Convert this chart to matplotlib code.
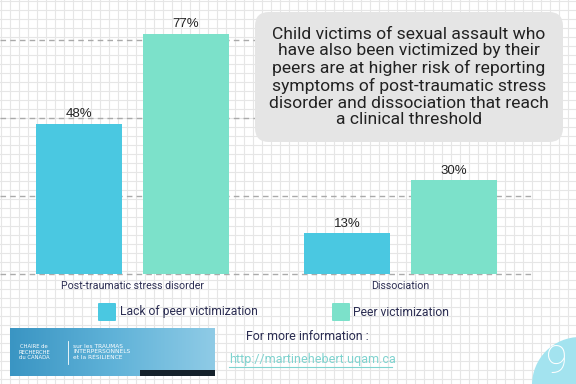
import numpy as np
import matplotlib.pyplot as plt
from matplotlib.patches import FancyBboxPatch, Rectangle, Circle
from matplotlib.colors import LinearSegmentedColormap

categories = ["Post-traumatic stress disorder", "Dissociation"]
series_names = ["Lack of peer victimization", "Peer victimization"]
no_peer = [48, 13]
peer = [77, 30]
title = ("Child victims of sexual assault who\nhave also been victimized by their\n"
         "peers are at higher risk of reporting\nsymptoms of post-traumatic stress\n"
         "disorder and dissociation that reach\na clinical threshold")

BLUE = "#4ac8e1"
GREEN = "#7ce1ca"
NAVY = "#2b2d52"
FONT = "Roboto"
W, H = 576, 384

fig = plt.figure(figsize=(5.76, 3.84), dpi=100)

# graph paper background
bg = fig.add_axes([0, 0, 1, 1], zorder=0)
bg.set_xlim(0, W)
bg.set_ylim(H, 0)
bg.axis("off")
for v in np.arange(0, W + 1, 9):
    bg.axvline(v + 0.5, color="#e6e6e6", lw=0.8)
for v in np.arange(0, H + 1, 9):
    bg.axhline(v + 0.5, color="#e6e6e6", lw=0.8)

# main chart
ax = fig.add_axes([0, 1 - 274 / H, 534 / W, 264 / H], zorder=1)
ax.patch.set_alpha(0)
x = np.arange(len(categories))
for yv in [0, 25, 50, 75]:
    ax.axhline(yv, color="#aaaaaa", lw=1, linestyle=(0, (4, 3)), zorder=1, clip_on=False)
ax.bar(x - 0.2, no_peer, width=0.32, color=BLUE, zorder=3)
ax.bar(x + 0.2, peer, width=0.32, color=GREEN, zorder=3)
for i in range(len(categories)):
    ax.text(x[i] - 0.2, no_peer[i] + 1.2, f"{no_peer[i]}%", ha="center", va="bottom",
            fontsize=9.5, family="Liberation Sans", color="#222222")
    ax.text(x[i] + 0.2, peer[i] + 1.2, f"{peer[i]}%", ha="center", va="bottom",
            fontsize=9.5, family="Liberation Sans", color="#222222")
ax.set_xlim(-0.494, 1.498)
ax.set_ylim(0, 264 / 3.12)
ax.set_yticks([])
ax.set_xticks(x)
ax.set_xticklabels(categories, fontsize=7.7, color=NAVY, family=FONT)
ax.tick_params(axis="x", length=0, pad=5)
for s in ax.spines.values():
    s.set_visible(False)

# overlay: title box, legend, footer
ov = fig.add_axes([0, 0, 1, 1], zorder=2)
ov.patch.set_alpha(0)

ov.add_patch(FancyBboxPatch((255 + 14, 12 + 14), 308 - 28, 130 - 28,
                            boxstyle="round,pad=14", fc="#e5e5e5", ec="none"))
ov.text(409, 77, title, ha="center", va="center", fontsize=12.6, color="#222222",
        family=FONT, linespacing=1.13)

ov.add_patch(FancyBboxPatch((99, 304), 16, 16, boxstyle="round,pad=1", fc=BLUE, ec="none"))
ov.text(120, 312, series_names[0], ha="left", va="center", fontsize=8.7, color=NAVY,
        family=FONT)
ov.add_patch(FancyBboxPatch((333, 304), 16, 16, boxstyle="round,pad=1", fc=GREEN, ec="none"))
ov.text(353, 312, series_names[1], ha="left", va="center", fontsize=8.7, color=NAVY,
        family=FONT)

# logo banner
grad = np.linspace(0, 1, 200)[None, :]
ov.imshow(grad, extent=(10, 215, 376, 328), aspect="auto", zorder=2,
          cmap=LinearSegmentedColormap.from_list("logo", ["#3a95c3", "#5fb2d8", "#8fcbe6"]))
ov.add_patch(Rectangle((140, 370), 75, 6, fc="#14202a", ec="none", zorder=3))
ov.text(34, 352, "CHAIRE de\nRECHERCHE\ndu CANADA", ha="center", va="center", fontsize=3.8,
        color="white", linespacing=1.2, zorder=4)
ov.plot([68, 68], [341, 364], color="white", lw=0.6, zorder=4)
ov.text(73, 352, "sur les TRAUMAS\nINTERPERSONNELS\net la RÉSILIENCE", ha="left", va="center",
        fontsize=4.2, color="white", linespacing=1.2, zorder=4)

ov.text(246, 337, "For more information :", ha="left", va="center", fontsize=8.9,
        color=NAVY, family=FONT)
ov.text(229, 360, "http://martinehebert.uqam.ca", ha="left", va="center", fontsize=9,
        color="#7fd3cf", family=FONT)
ov.plot([229, 392], [367, 367], color="#7fd3cf", lw=0.8)

ov.add_patch(Circle((580, 385), 48, fc="#a3e3ef", ec="none"))
ov.text(557, 362, "9", ha="center", va="center", fontsize=28, color="white",
        family=FONT, fontweight="light")

ov.set_xlim(0, W)
ov.set_ylim(H, 0)
ov.axis("off")

fig.savefig("out.png", dpi=100)
